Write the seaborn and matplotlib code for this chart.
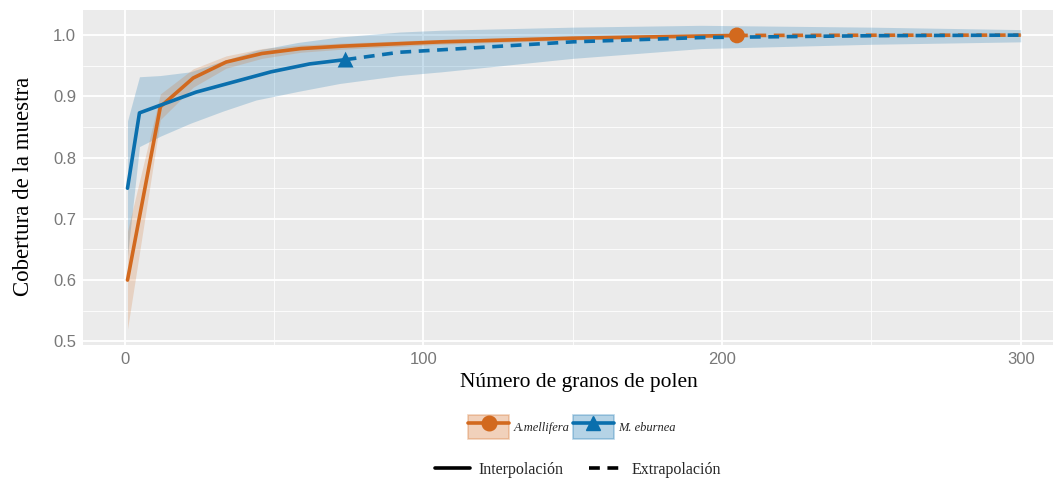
import numpy as np
import pandas as pd
import matplotlib
matplotlib.use("Agg")
import matplotlib.pyplot as plt
from matplotlib.lines import Line2D
from matplotlib.patches import Patch
from matplotlib.legend_handler import HandlerTuple
from matplotlib.ticker import MultipleLocator
import seaborn as sns

# Sample coverage curves (rarefaction / extrapolation) for two bee species
species = ["A.mellifera", "M. eburnea"]
colors = {"A.mellifera": "#D2691E", "M. eburnea": "#0A6FAD"}

# Apis mellifera
am_interp_n = [1, 12, 23, 34, 46, 59, 73, 106, 150, 205]
am_interp_sc = [0.600, 0.883, 0.930, 0.956, 0.970, 0.978, 0.982, 0.989, 0.995, 0.9995]
am_extrap_n = [205, 250, 300]
am_extrap_sc = [0.9995, 0.9998, 1.000]
am_band_n = [1, 12, 23, 34, 46, 59, 73, 106, 150, 205, 250, 300]
am_band_lo = [0.520, 0.862, 0.915, 0.946, 0.962, 0.972, 0.977, 0.985, 0.992, 0.997, 0.998, 0.998]
am_band_hi = [0.680, 0.904, 0.945, 0.966, 0.978, 0.984, 0.987, 0.993, 0.998, 1.002, 1.002, 1.002]
am_obs_n, am_obs_sc = 205, 0.9995

# Melipona eburnea
me_interp_n = [1, 5, 24, 49, 62, 74]
me_interp_sc = [0.750, 0.873, 0.907, 0.940, 0.953, 0.960]
me_extrap_n = [74, 92, 106, 150, 193, 250, 300]
me_extrap_sc = [0.960, 0.972, 0.976, 0.989, 0.996, 0.999, 1.000]
me_band_n = [1, 5, 12, 22, 33, 44, 58, 72, 92, 106, 150, 193, 250, 300]
me_band_lo = [0.640, 0.818, 0.835, 0.856, 0.876, 0.894, 0.908, 0.921, 0.934, 0.940, 0.962, 0.978, 0.985, 0.989]
me_band_hi = [0.860, 0.932, 0.934, 0.940, 0.958, 0.975, 0.988, 0.997, 1.005, 1.008, 1.013, 1.016, 1.013, 1.009]
me_obs_n, me_obs_sc = 74, 0.960

x_label = "Número de granos de polen"
y_label = "Cobertura de la muestra"
method_labels = ["Interpolación", "Extrapolación"]

rows = []
for sp, n_i, sc_i, n_e, sc_e in [
    ("A.mellifera", am_interp_n, am_interp_sc, am_extrap_n, am_extrap_sc),
    ("M. eburnea", me_interp_n, me_interp_sc, me_extrap_n, me_extrap_sc),
]:
    rows += [(sp, "Interpolación", n, s) for n, s in zip(n_i, sc_i)]
    rows += [(sp, "Extrapolación", n, s) for n, s in zip(n_e, sc_e)]
curves = pd.DataFrame(rows, columns=["Especie", "Método", "n", "SC"])

observed = pd.DataFrame({
    "Especie": species,
    "n": [am_obs_n, me_obs_n],
    "SC": [am_obs_sc, me_obs_sc],
})

serif = "Liberation Serif"
sans = "Liberation Sans"

sns.set_theme(style="darkgrid")
plt.rcParams["font.family"] = [sans, "DejaVu Sans"]

fig = plt.figure(figsize=(10.53, 4.83), dpi=100)
ax = fig.add_axes([83 / 1053, 1 - 345 / 483, 1 - 83 / 1053, (345 - 10) / 483])
ax.set_facecolor("#EBEBEB")

# Confidence bands
ax.fill_between(me_band_n, me_band_lo, me_band_hi, color=colors["M. eburnea"],
                alpha=0.22, lw=0, zorder=2)
ax.fill_between(am_band_n, am_band_lo, am_band_hi, color=colors["A.mellifera"],
                alpha=0.2, lw=0, zorder=2)

# Curves: solid for interpolation, dashed for extrapolation
sns.lineplot(data=curves, x="n", y="SC", hue="Especie", style="Método",
             hue_order=species, palette=colors,
             dashes={"Interpolación": "", "Extrapolación": (3, 2.1)},
             estimator=None, sort=False, lw=2.6, legend=False, ax=ax, zorder=3)

# Observed sample size
sns.scatterplot(data=observed, x="n", y="SC", hue="Especie", style="Especie",
                hue_order=species, palette=colors,
                markers={"A.mellifera": "o", "M. eburnea": "^"},
                s=130, linewidth=0, legend=False, ax=ax, zorder=4)

ax.set_xlim(-13.9, 310.8)
ax.set_ylim(0.494, 1.041)
ax.xaxis.set_minor_locator(MultipleLocator(50))
ax.yaxis.set_minor_locator(MultipleLocator(0.05))
ax.set_xticks([0, 100, 200, 300])
ax.set_yticks(np.arange(0.5, 1.01, 0.1))
ax.set_yticklabels([f"{v:.1f}" for v in np.arange(0.5, 1.01, 0.1)])
ax.grid(which="major", color="white", lw=1.3)
ax.grid(which="minor", color="white", lw=0.6)
for s in ax.spines.values():
    s.set_visible(False)
ax.tick_params(axis="both", which="major", length=3, width=0.8, color="#555555",
               labelsize=12, labelcolor="#787878", pad=2)
ax.tick_params(axis="both", which="minor", length=0)

ax.set_xlabel(x_label, fontsize=15.5, family=serif, color="black")
ax.xaxis.set_label_coords(0.511, -0.085, transform=ax.transAxes)
ax.set_ylabel(y_label, fontsize=16.5, family=serif, color="black")
ax.yaxis.set_label_coords(-0.05, 0.475, transform=ax.transAxes)

# Species legend (boxed keys)
sp_handles = []
for sp, mk in zip(species, ["o", "^"]):
    box = Patch(facecolor=colors[sp], alpha=0.3, edgecolor=colors[sp], lw=1.2)
    line = Line2D([], [], color=colors[sp], lw=2.6, marker=mk, markersize=10.5)
    sp_handles.append((box, line))
leg1 = fig.legend(sp_handles, species, loc="center", bbox_to_anchor=(0.543, 0.116),
                  ncol=2, frameon=False, handler_map={tuple: HandlerTuple(ndivide=1)},
                  prop={"family": serif, "style": "italic", "size": 9},
                  handlelength=3.3, handleheight=2.5, handletextpad=0.3,
                  columnspacing=0.3, borderpad=0)

# Method legend
m_handles = [Line2D([], [], color="black", lw=2.6),
             Line2D([], [], color="black", lw=2.6, dashes=(3, 2.1))]
leg2 = fig.legend(m_handles, method_labels, loc="center", bbox_to_anchor=(0.549, 0.027),
                  ncol=2, frameon=False, prop={"family": serif, "size": 11.5},
                  handlelength=2.2, handletextpad=0.5, columnspacing=1.6, borderpad=0)

fig.savefig("out.png", dpi=100, facecolor="white")
